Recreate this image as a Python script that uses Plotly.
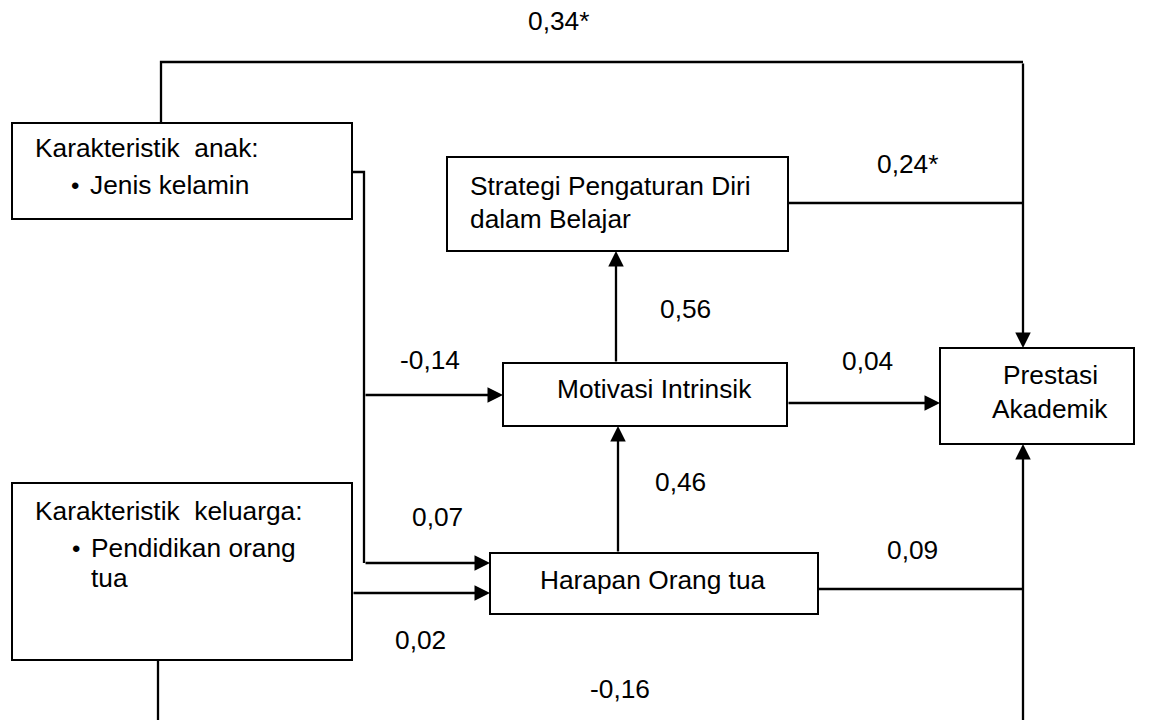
import plotly.graph_objects as go

# ---------------- data ----------------
node_ids = ["anak", "strategi", "motivasi", "prestasi", "keluarga", "harapan"]
node_lines = [
    ["Karakteristik  anak:", "Jenis kelamin"],
    ["Strategi Pengaturan Diri", "dalam Belajar"],
    ["Motivasi Intrinsik"],
    ["Prestasi", "Akademik"],
    ["Karakteristik  keluarga:", "Pendidikan orang", "tua"],
    ["Harapan Orang tua"],
]
path_names = [
    "anak->prestasi", "strategi->prestasi", "motivasi->strategi", "anak->motivasi",
    "motivasi->prestasi", "harapan->motivasi", "anak->harapan", "harapan->prestasi",
    "keluarga->harapan", "keluarga->prestasi",
]
path_coefficients = ["0,34*", "0,24*", "0,56", "-0,14", "0,04", "0,46", "0,07", "0,09", "0,02", "-0,16"]

# ---------------- layout / geometry ----------------
W, H = 1149, 720
FONT = dict(family="Liberation Sans, Arial, sans-serif", size=26.3, color="black")
LW_BOX = 2
LW_LINE = 2.3

boxes = {
    "anak": (12, 123, 352, 219),
    "strategi": (447, 157, 788, 251),
    "motivasi": (503, 363, 787, 426),
    "prestasi": (940, 348, 1134, 444),
    "keluarga": (12, 483, 352, 660),
    "harapan": (490, 553, 818, 614),
}

# text placement per node line: (x, y, xanchor, bullet)
text_pos = {
    "anak": [(33, 148, "left", False), (88, 185, "left", True)],
    "strategi": [(468, 186, "left", False), (468, 219, "left", False)],
    "motivasi": [(654, 389, "center", False)],
    "prestasi": [(1050, 375, "center", False), (1050, 409, "center", False)],
    "keluarga": [(33, 511, "left", False), (89, 548, "left", True), (89, 578, "left", False)],
    "harapan": [(653, 580, "center", False)],
}

label_pos = [(558, 21), (907, 164), (685, 309), (430, 360), (867, 361),
             (680, 482), (437, 517), (912, 550), (420, 640), (620, 689)]

# connector polylines (no heads) and arrows (tail -> tip)
polylines = [
    [(161, 123), (161, 62), (1023, 62)],
    [(788, 203), (1023, 203)],
    [(352, 172), (364, 172), (364, 563)],
    [(818, 589), (1023, 589)],
    [(158, 660), (158, 725)],
]
arrows = [
    ((1023, 62), (1023, 348)),
    ((616, 363), (616, 251)),
    ((364, 395), (503, 395)),
    ((787, 403), (940, 403)),
    ((618, 553), (618, 426)),
    ((364, 563), (490, 563)),
    ((352, 593), (490, 593)),
    ((1023, 725), (1023, 444)),
]

fig = go.Figure()
shapes = []
annotations = []

for nid in node_ids:
    x0, y0, x1, y1 = boxes[nid]
    shapes.append(dict(type="rect", xref="x", yref="y", x0=x0, y0=y0, x1=x1, y1=y1,
                       line=dict(color="black", width=LW_BOX), fillcolor="white", layer="above"))

for nid, lines in zip(node_ids, node_lines):
    for txt, (x, y, anchor, bullet) in zip(lines, text_pos[nid]):
        annotations.append(dict(x=x, y=y, xref="x", yref="y", text=txt, showarrow=False,
                                xanchor=anchor, yanchor="middle", font=FONT))
        if bullet:
            annotations.append(dict(x=x - 7, y=y, xref="x", yref="y", text="•", showarrow=False,
                                    xanchor="right", yanchor="middle",
                                    font=dict(family=FONT["family"], size=24, color="black")))

for name, coef, (x, y) in zip(path_names, path_coefficients, label_pos):
    annotations.append(dict(x=x, y=y, xref="x", yref="y", text=coef, showarrow=False,
                            xanchor="center", yanchor="middle", font=FONT))

for pts in polylines:
    path = "M " + " L ".join(f"{px},{py}" for px, py in pts)
    shapes.append(dict(type="path", xref="x", yref="y", path=path,
                       line=dict(color="black", width=LW_LINE)))

for (tx, ty), (hx, hy) in arrows:
    annotations.append(dict(x=hx, y=hy, ax=tx, ay=ty, xref="x", yref="y", axref="x", ayref="y",
                            text="", showarrow=True, arrowhead=2, arrowsize=1.35,
                            arrowwidth=LW_LINE, arrowcolor="black", standoff=0))

fig.update_layout(
    width=W, height=H, margin=dict(l=0, r=0, t=0, b=0),
    paper_bgcolor="white", plot_bgcolor="white", showlegend=False,
    xaxis=dict(range=[0, W], visible=False, fixedrange=True),
    yaxis=dict(range=[H, 0], visible=False, fixedrange=True),
    shapes=shapes, annotations=annotations,
)
fig.write_html(
    "out.html",
    config={"displayModeBar": False},
    post_script="document.body.style.margin='0px'; document.body.style.overflow='hidden';",
)
